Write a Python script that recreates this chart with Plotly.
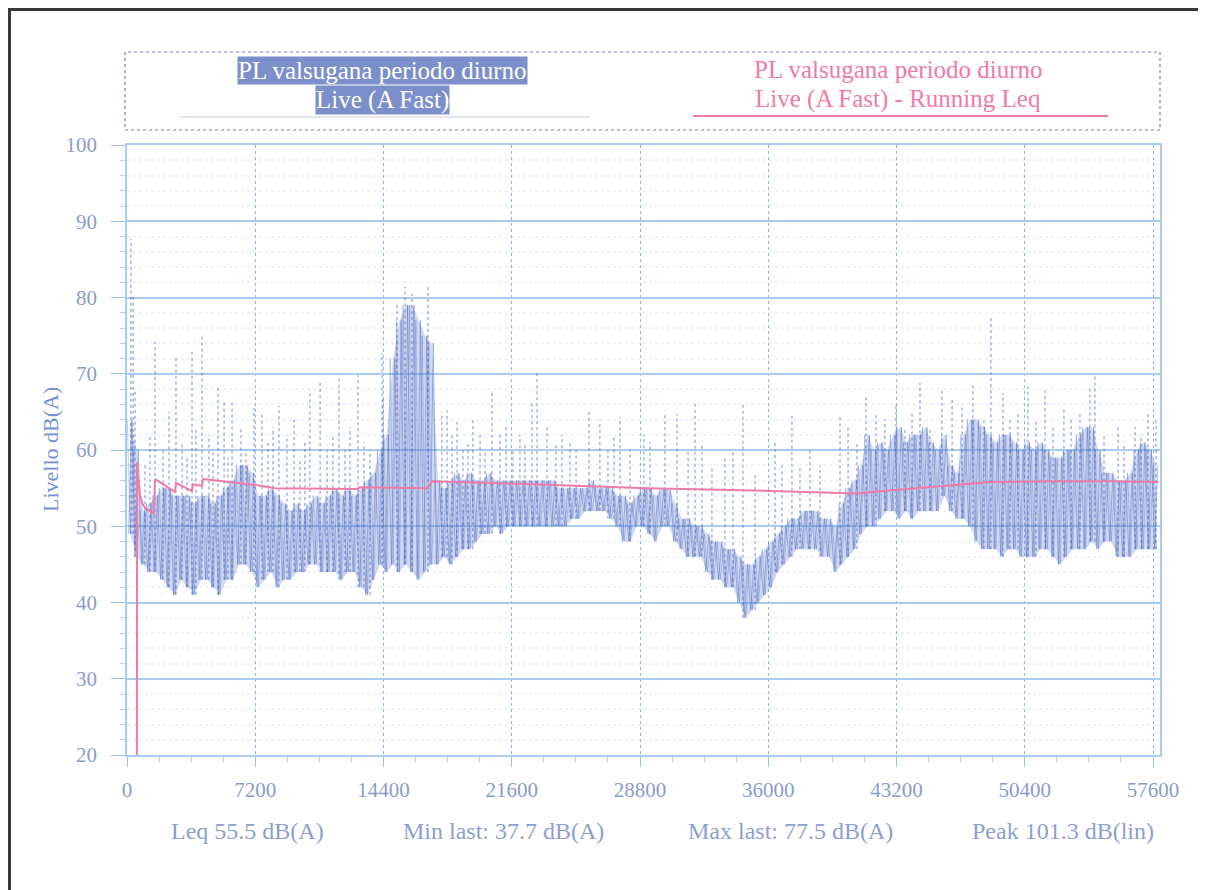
import plotly.graph_objects as go

# ---------------- data ----------------
bin_seconds = 360
band_low = [49, 46, 45, 44, 44, 43, 42, 41, 43, 42, 41, 43, 43, 42, 41, 43, 43, 45, 45, 44,
            42, 43, 44, 42, 43, 43, 44, 44, 45, 45, 44, 44, 44, 43, 44, 44, 42, 41, 43, 45,
            44, 45, 44, 45, 44, 43, 44, 45, 45, 46, 45, 46, 47, 47, 48, 49, 49, 50, 49, 50,
            50, 50, 50, 50, 50, 50, 50, 50, 50, 51, 51, 52, 52, 52, 52, 51, 50, 48, 48, 50,
            50, 49, 48, 50, 50, 48, 47, 46, 46, 46, 44, 43, 43, 42, 42, 40, 38, 39, 40, 41,
            42, 44, 45, 46, 47, 47, 47, 47, 46, 46, 44, 45, 46, 47, 49, 50, 50, 51, 52, 52,
            51, 52, 51, 52, 52, 52, 52, 54, 52, 51, 51, 50, 48, 47, 47, 47, 46, 47, 47, 46,
            46, 46, 47, 47, 46, 45, 46, 47, 47, 47, 48, 47, 48, 48, 46, 46, 46, 47, 47, 47,
            47]
band_high = [64, 60, 52, 53, 54, 55, 55, 54, 54, 54, 53, 54, 54, 53, 54, 55, 56, 58, 58, 57,
             54, 54, 55, 54, 53, 52, 53, 52, 53, 54, 53, 54, 55, 54, 55, 54, 55, 56, 57, 60,
             62, 72, 77, 79, 79, 77, 75, 74, 56, 55, 56, 57, 56, 57, 56, 56, 57, 56, 56, 56,
             56, 56, 56, 56, 56, 56, 56, 55, 55, 55, 55, 55, 56, 55, 55, 55, 54, 54, 53, 54,
             55, 55, 54, 55, 55, 53, 51, 51, 50, 50, 49, 48, 48, 47, 47, 46, 45, 45, 46, 47,
             48, 49, 50, 51, 51, 52, 52, 52, 51, 51, 50, 53, 55, 56, 58, 62, 60, 61, 60, 62,
             63, 61, 62, 62, 63, 61, 60, 62, 58, 57, 62, 64, 64, 63, 62, 61, 62, 62, 61, 60,
             61, 60, 61, 60, 59, 59, 60, 60, 62, 63, 63, 60, 57, 57, 56, 56, 57, 60, 61, 60,
             58]

spike_t = [220, 340, 450, 1010, 1290, 1570, 2020, 2360, 2750, 3090, 3370, 3650, 3870, 4210,
           4600, 4830, 5110, 5450, 5670, 5900, 6400, 6680, 7130, 7580, 7920, 8200, 8530, 8980,
           9380, 9710, 9990, 10270, 10840, 11230, 11560, 11900, 12240, 12520, 12970, 13300,
           13640, 14320, 14370, 15160, 15610, 16000, 16900, 17680, 17970, 18250, 18530, 18860,
           19140, 19420, 19820, 20100, 20490, 20940, 21280, 21670, 22060, 22340, 22740, 23020,
           23580, 24080, 24420, 24870, 25210, 25940, 26550, 27000, 27340, 27680, 28240, 29020,
           29360, 30200, 30880, 31500, 31890, 32280, 32840, 33570, 34020, 34580, 35260, 36380,
           36770, 37330, 37780, 38340, 38910, 40030, 40480, 40980, 41490, 42050, 42550, 43170,
           43680, 44070, 44520, 45080, 45750, 46320, 46880, 47490, 48110, 48500, 49180, 49570,
           50020, 50580, 51030, 51540, 51990, 52600, 53000, 53500, 54060, 54340, 54850, 55640,
           55970, 56590, 56930, 57320, 57770]
spike_db = [87.7, 80.5, 68, 58, 62, 74.2, 60, 65, 72.5, 61, 59, 72.9, 63, 75.3,
            62, 60, 68.3, 66.6, 59, 66.3, 63, 60, 65.5, 65, 61, 63, 65.8, 62,
            64, 59, 61, 67.9, 68.8, 60, 62, 69.8, 60, 63, 69.8, 61,
            60, 72.7, 66.8, 79.2, 81.4, 80.5, 81.5, 65, 65.2, 62, 64, 60,
            61, 64.2, 62, 60, 67.6, 62, 63, 60, 62, 61, 66.1, 70.1,
            63, 61, 62, 61, 60, 65.2, 63.9, 60, 62, 64.3, 60, 62,
            61, 65, 64.8, 60, 66.3, 61, 58, 59, 60, 66.3, 57, 61,
            58, 64.6, 58, 60, 58, 64.6, 63, 61, 67.2, 65, 64, 66,
            63, 65, 68.8, 63, 67.9, 67, 66, 68.5, 64, 77.4, 67.5, 64,
            65, 68.3, 64, 67.9, 63, 65.5, 64, 65, 68.3, 70.1, 62, 63,
            61, 63, 62, 64.8, 64]

leq_t = [555, 565, 620, 730, 900, 1120, 1516, 1572, 2695, 2751, 3649, 3705, 4210, 4267,
         7240, 8310, 12910, 13080, 16900, 17120, 22790, 25430, 29190, 33290, 36660, 40980,
         42270, 45080, 48450, 51820, 55190, 57900]
leq_db = [20, 58.4, 56.5, 54.0, 52.8, 52.2, 51.7, 56.2, 54.5, 55.7, 54.6, 55.5, 55.3, 56.2,
          55.4, 55.0, 54.9, 55.1, 55.0, 55.9, 55.5, 55.3, 55.0, 54.8, 54.6, 54.3,
          54.6, 55.1, 55.8, 55.9, 55.9, 55.8]

x_ticks = [0, 7200, 14400, 21600, 28800, 36000, 43200, 50400, 57600]
y_ticks = [20, 30, 40, 50, 60, 70, 80, 90, 100]

legend_title = "PL valsugana periodo diurno"
legend_blue = "Live (A Fast)"
legend_pink = "Live (A Fast) - Running Leq"
stats = ["Leq 55.5 dB(A)", "Min last: 37.7 dB(A)", "Max last: 77.5 dB(A)", "Peak 101.3 dB(lin)"]
y_title = "Livello dB(A)"

# ---------------- layout constants (page pixels) ----------------
PAGE_W, PAGE_H = 1206, 890
OFF = 8  # default body margin of the html page
W, H = PAGE_W - OFF, PAGE_H - OFF
PL, PR, PT, PB = 127, 1160, 145, 755
FONT = "Liberation Serif"
BLUE = "rgba(65,95,190,0.72)"
PINK = "#f07aa8"
TICKC = "#8b9ccc"
GRIDC = "#a7cef0"


def fx(px):
    return (px - PL) / (PR - PL)


def fy(py):
    return (PB - py) / (PB - PT)


# band envelope and cross-hatched zigzag texture from the low/high values
tx = [i * bin_seconds + bin_seconds / 2 for i in range(len(band_low))]
ax_, ay_, cx_, cy_ = [], [], [], []
for i, (lo, hi) in enumerate(zip(band_low, band_high)):
    t0 = i * bin_seconds
    ax_ += [t0 + bin_seconds * 0.25, t0 + bin_seconds * 0.75]
    ay_ += [lo, hi]
    cx_ += [t0 + bin_seconds * 0.05, t0 + bin_seconds * 0.5]
    cy_ += [hi, lo]

sx, sy = [], []
for t, v in zip(spike_t, spike_db):
    b = min(int(t // bin_seconds), len(band_low) - 1)
    sx += [t, t, None]
    sy += [band_low[b], v, None]

fig = go.Figure()
fig.add_trace(go.Scatter(x=tx, y=band_low, mode="lines", line=dict(width=0, color="rgba(0,0,0,0)"),
                         hoverinfo="skip", showlegend=False))
fig.add_trace(go.Scatter(x=tx, y=band_high, mode="lines", line=dict(width=0, color="rgba(0,0,0,0)"),
                         fill="tonexty", fillcolor="rgba(100,125,205,0.3)",
                         hoverinfo="skip", showlegend=False))
fig.add_trace(go.Scatter(x=ax_, y=ay_, mode="lines", line=dict(color=BLUE, width=0.6),
                         hoverinfo="skip", showlegend=False))
fig.add_trace(go.Scatter(x=cx_, y=cy_, mode="lines", line=dict(color="rgba(80,105,195,0.55)", width=0.6),
                         hoverinfo="skip", showlegend=False))
fig.add_trace(go.Scatter(x=sx, y=sy, mode="lines", line=dict(color=BLUE, width=1, dash="dot"),
                         hoverinfo="skip", showlegend=False))
fig.add_trace(go.Scatter(x=leq_t, y=leq_db, mode="lines", line=dict(color=PINK, width=2),
                         hoverinfo="skip", showlegend=False))

xmax = 57600 * (PR - PL) / (1153 - PL)
fig.update_xaxes(range=[0, xmax], tickmode="array", tickvals=x_ticks,
                 ticktext=[str(v) for v in x_ticks],
                 showgrid=True, gridcolor="#8fb4de", griddash="dot", gridwidth=1,
                 ticks="outside", ticklen=10, tickcolor="#9fbfe6",
                 minor=dict(ticks="outside", ticklen=5, dtick=1800, tick0=0, tickcolor="#b5cdea"),
                 showline=True, linecolor=GRIDC, linewidth=1.5, mirror=True, zeroline=False,
                 tickfont=dict(family=FONT, size=21, color=TICKC), ticklabelstandoff=5)
fig.update_yaxes(range=[20, 100], tickmode="array", tickvals=y_ticks,
                 ticktext=[str(v) for v in y_ticks],
                 showgrid=True, gridcolor=GRIDC, gridwidth=1.5,
                 ticks="outside", ticklen=14, tickcolor="#9fbfe6",
                 minor=dict(ticks="outside", ticklen=5, dtick=2, tick0=20, tickcolor="#b5cdea",
                            showgrid=True, gridcolor="rgba(190,205,230,0.25)", griddash="dot"),
                 showline=True, linecolor=GRIDC, linewidth=1.5, mirror=True, zeroline=False,
                 tickfont=dict(family=FONT, size=21, color=TICKC), ticklabelstandoff=10)

FRAME = 9.5
shapes = [
    # outer frame (left and top)
    dict(type="line", xref="paper", yref="paper", x0=fx(FRAME), x1=fx(FRAME), y0=fy(FRAME - 1.5),
         y1=fy(PAGE_H), line=dict(color="#3a3638", width=3)),
    dict(type="line", xref="paper", yref="paper", x0=fx(FRAME - 1.5), x1=fx(PAGE_W), y0=fy(FRAME),
         y1=fy(FRAME), line=dict(color="#3a3638", width=3)),
    # legend box
    dict(type="rect", xref="paper", yref="paper", x0=fx(125), x1=fx(1160), y0=fy(130), y1=fy(52),
         line=dict(color="#7282b8", width=1.2, dash="dot")),
    # legend samples
    dict(type="line", xref="paper", yref="paper", x0=fx(180), x1=fx(590), y0=fy(117), y1=fy(117),
         line=dict(color="#c4cde0", width=1)),
    dict(type="line", xref="paper", yref="paper", x0=fx(693), x1=fx(1108), y0=fy(116), y1=fy(116),
         line=dict(color=PINK, width=2)),
]

ann = []
ann.append(dict(text=legend_title, x=fx(382), y=fy(71), bgcolor="#7d8fcb", borderpad=0))
ann.append(dict(text=legend_blue, x=fx(382), y=fy(100), bgcolor="#7d8fcb", borderpad=0))
for a in ann:
    a.update(xref="paper", yref="paper", showarrow=False, xanchor="center", yanchor="middle",
             font=dict(family=FONT, size=25, color="white"))
for txt, yy in [(legend_title, 70), (legend_pink, 99)]:
    ann.append(dict(text=txt, x=fx(898), y=fy(yy), xref="paper", yref="paper", showarrow=False,
                    xanchor="center", yanchor="middle",
                    font=dict(family=FONT, size=25, color=PINK)))
ann.append(dict(text=y_title, x=fx(50), y=fy(450), xref="paper", yref="paper", showarrow=False,
                textangle=-90, xanchor="center", yanchor="middle",
                font=dict(family=FONT, size=22, color="#7090d8")))
for txt, cx in zip(stats, [247, 503, 790, 1063]):
    ann.append(dict(text=txt, x=fx(cx), y=fy(831), xref="paper", yref="paper", showarrow=False,
                    xanchor="center", yanchor="middle",
                    font=dict(family=FONT, size=24, color="#8d9fd0")))

fig.update_layout(width=W, height=H,
                  margin=dict(l=PL - OFF, r=PAGE_W - PR, t=PT - OFF, b=PAGE_H - PB),
                  paper_bgcolor="white", plot_bgcolor="white", showlegend=False,
                  shapes=shapes, annotations=ann)

fig.write_html("out.html")
